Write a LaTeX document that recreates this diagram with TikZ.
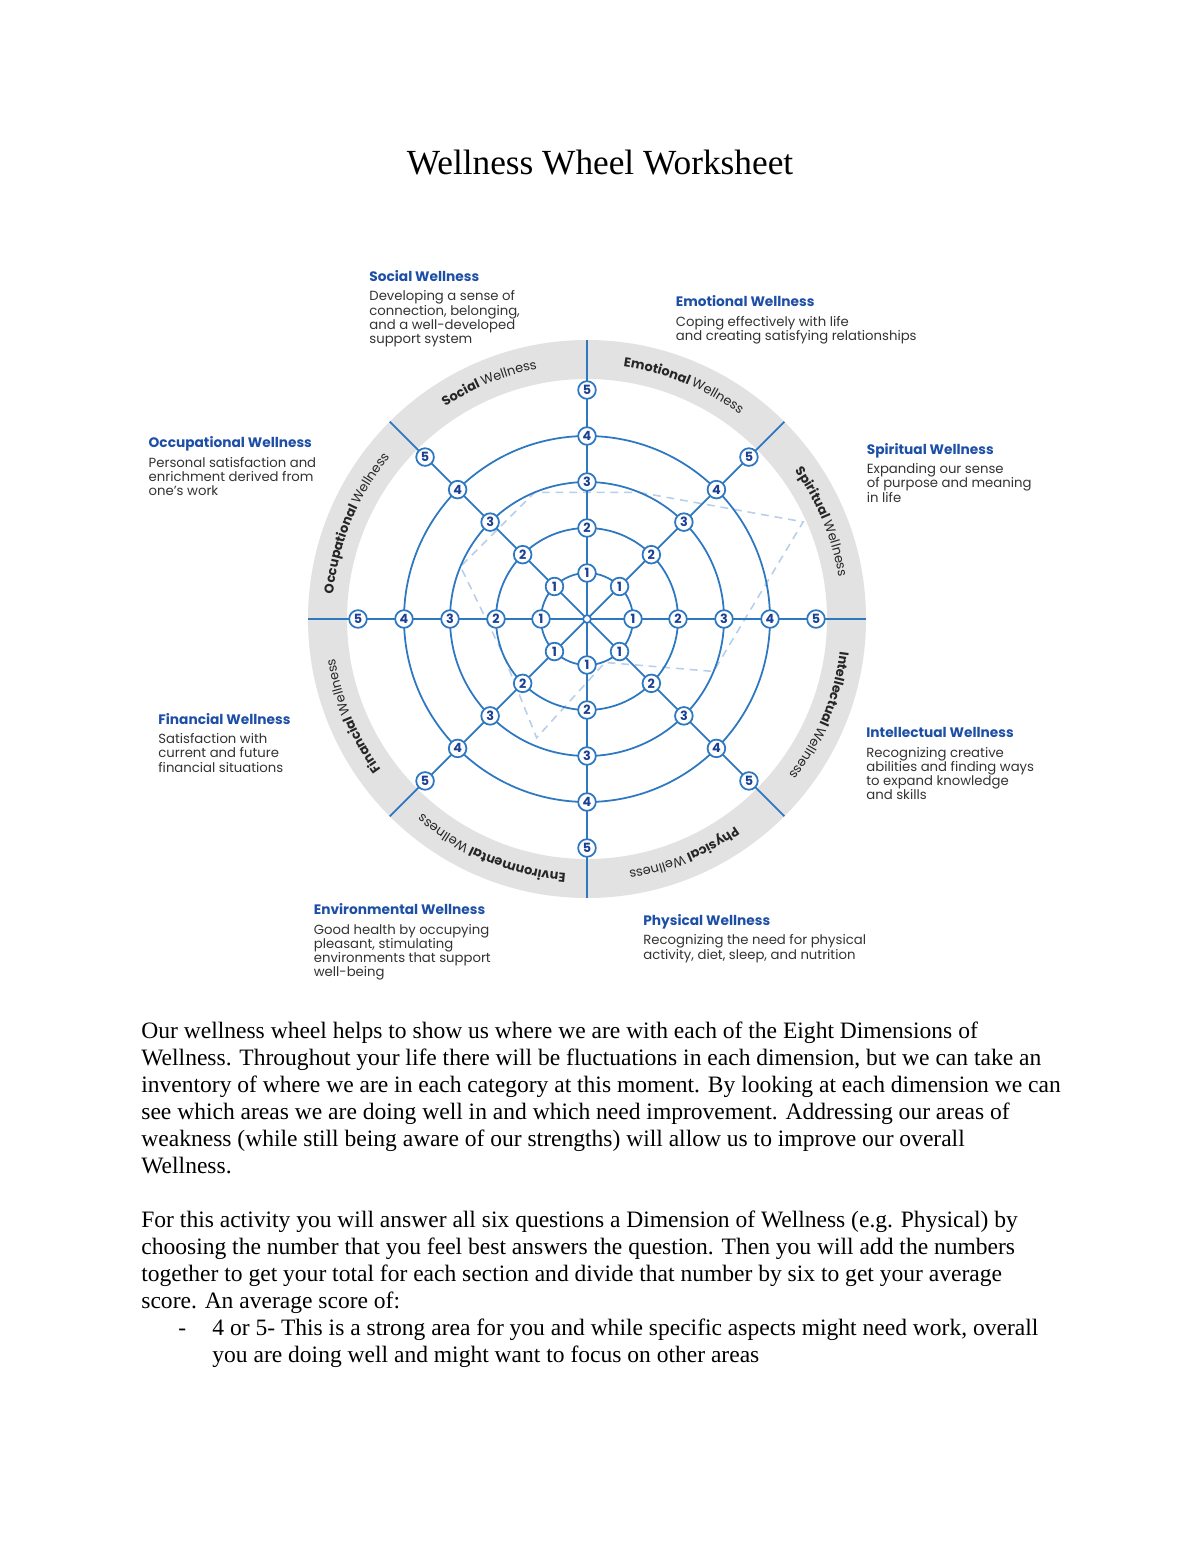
\documentclass[tikz,border=0pt]{standalone}
\usepackage{fontspec}
\setmainfont{Liberation Serif}
\newfontfamily\wsans{Poppins}
\usetikzlibrary{decorations.text,calc}
\definecolor{wblue}{HTML}{2E78C2}
\definecolor{wnavy}{HTML}{1B3F91}
\definecolor{wtitle}{HTML}{1D4FA6}
\definecolor{wgray}{HTML}{E2E2E2}
\definecolor{wdash}{HTML}{B7CFEA}
\definecolor{wtext}{HTML}{333333}
\tikzset{
 numnode/.style={circle, draw=wblue, fill=white, line width=0.9pt, minimum size=9pt, inner sep=0pt, font=\wsans\bfseries\fontsize{6.5}{6.5}\selectfont, text=wnavy},
 ringline/.style={draw=wblue, line width=0.9pt},
 captitle/.style={anchor=base west, inner sep=0pt, font=\wsans\bfseries\fontsize{7}{8}\selectfont, text=wtitle},
 capbody/.style={anchor=base west, inner sep=0pt, font=\wsans\fontsize{6.75}{8}\selectfont, text=wtext},
 bodyline/.style={anchor=base west, inner sep=0pt, font=\fontsize{12}{13.8}\selectfont},
}
% #1 centre angle of the sector, #2 bold word
\newcommand\ringlabel[2]{%
 \path[decorate, decoration={text along path, text align=center, text color=black!85,
   text={|\wsans\bfseries\fontsize{6.6}{6.6}\selectfont|#2 |\wsans\mdseries\fontsize{6.6}{6.6}\selectfont|Wellness}}]
   ({#1+60}:255) arc[start angle={#1+60}, end angle={#1-60}, radius=255];}
\begin{document}
\begin{tikzpicture}[x=0.51pt,y=-0.51pt]
\useasboundingbox[fill=white] (0,0) rectangle (1200,1553);
\node[anchor=base, inner sep=0pt, font=\fontsize{18}{20}\selectfont] (title) at (600,175) {Wellness Wheel Worksheet};

\begin{scope}[shift={(587,619)}, y=0.51pt]
 \fill[wgray, even odd rule] (0,0) circle[radius=279] (0,0) circle[radius=240];
 \coordinate (vEmo) at (67.5:137);
 \coordinate (vSpi) at (24.2:237);
 \coordinate (vInt) at (-22.5:137);
 \coordinate (vPhy) at (-67.5:47);
 \coordinate (vEnv) at (-113:129);
 \coordinate (vFin) at (-157.5:91);
 \coordinate (vOcc) at (157.5:137);
 \coordinate (vSoc) at (112.5:137);
 \draw[wdash, line width=0.8pt, dash pattern=on 4pt off 3pt] (vEmo) -- (vSpi) -- (vInt) -- (vPhy) -- (vEnv) -- (vFin) -- (vOcc) -- (vSoc) -- cycle;
 \foreach \r in {46,91,137,183} \draw[ringline] (0,0) circle[radius=\r];
 \coordinate (ctrpt) at (0,0);
 \foreach \a in {0,45,...,315} {
   \coordinate (o\a) at (\a:279);
   \draw[ringline] (ctrpt) -- (o\a);
 }
 \node[circle, draw=wblue, fill=white, line width=0.9pt, minimum size=4pt, inner sep=0pt] (ctr) at (0,0) {};
 \foreach \a in {0,45,...,315} {
   \foreach \v/\r in {1/46,2/91,3/137,4/183,5/229}
     \node[numnode] (n\a-\v) at (\a:\r) {\v};
 }
 \ringlabel{112.5}{Social}
 \ringlabel{67.5}{Emotional}
 \ringlabel{22.5}{Spiritual}
 \ringlabel{-22.5}{Intellectual}
 \ringlabel{-67.5}{Physical}
 \ringlabel{-112.5}{Environmental}
 \ringlabel{-157.5}{Financial}
 \ringlabel{157.5}{Occupational}
\end{scope}

% captions
\node[captitle] (socT) at (369,281) {Social Wellness};
\node[capbody] (soc1) at (369,300.7) {Developing a sense of};
\node[capbody] (soc2) at (369,315) {connection, belonging,};
\node[capbody] (soc3) at (369,329.2) {and a well-developed};
\node[capbody] (soc4) at (369,343.4) {support system};

\node[captitle] (emoT) at (675.5,306.5) {Emotional Wellness};
\node[capbody] (emo1) at (675.5,326) {Coping effectively with life};
\node[capbody] (emo2) at (675.5,340.3) {and creating satisfying relationships};

\node[captitle] (occT) at (148.3,447.7) {Occupational Wellness};
\node[capbody] (occ1) at (148.3,467.3) {Personal satisfaction and};
\node[capbody] (occ2) at (148.3,481.5) {enrichment derived from};
\node[capbody] (occ3) at (148.3,495.7) {one’s work};

\node[captitle] (spiT) at (866.5,454) {Spiritual Wellness};
\node[capbody] (spi1) at (866.5,473.5) {Expanding our sense};
\node[capbody] (spi2) at (866.5,487.7) {of purpose and meaning};
\node[capbody] (spi3) at (866.5,502) {in life};

\node[captitle] (finT) at (158,724) {Financial Wellness};
\node[capbody] (fin1) at (158,743.5) {Satisfaction with};
\node[capbody] (fin2) at (158,757.7) {current and future};
\node[capbody] (fin3) at (158,772) {financial situations};

\node[captitle] (intT) at (866,737) {Intellectual Wellness};
\node[capbody] (int1) at (866,757) {Recognizing creative};
\node[capbody] (int2) at (866,771.2) {abilities and finding ways};
\node[capbody] (int3) at (866,785.5) {to expand knowledge};
\node[capbody] (int4) at (866,799.8) {and skills};

\node[captitle] (envT) at (313.5,914) {Environmental Wellness};
\node[capbody] (env1) at (313.5,934) {Good health by occupying};
\node[capbody] (env2) at (313.5,948.2) {pleasant, stimulating};
\node[capbody] (env3) at (313.5,962.4) {environments that support};
\node[capbody] (env4) at (313.5,976.6) {well-being};

\node[captitle] (phyT) at (643,925) {Physical Wellness};
\node[capbody] (phy1) at (643,944.8) {Recognizing the need for physical};
\node[capbody] (phy2) at (643,959.2) {activity, diet, sleep, and nutrition};

% body text
\node[bodyline] (b1) at (141,1038) {Our wellness wheel helps to show us where we are with each of the Eight Dimensions of};
\node[bodyline] (b2) at (141,1065) {Wellness. Throughout your life there will be fluctuations in each dimension, but we can take an};
\node[bodyline] (b3) at (141,1092) {inventory of where we are in each category at this moment. By looking at each dimension we can};
\node[bodyline] (b4) at (141,1119) {see which areas we are doing well in and which need improvement. Addressing our areas of};
\node[bodyline] (b5) at (141,1146) {weakness (while still being aware of our strengths) will allow us to improve our overall};
\node[bodyline] (b6) at (141,1173) {Wellness.};
\node[bodyline] (c1) at (141,1227) {For this activity you will answer all six questions a Dimension of Wellness (e.g. Physical) by};
\node[bodyline] (c2) at (141,1254) {choosing the number that you feel best answers the question. Then you will add the numbers};
\node[bodyline] (c3) at (141,1281) {together to get your total for each section and divide that number by six to get your average};
\node[bodyline] (c4) at (141,1308) {score. An average score of:};
\node[bodyline] (dash1) at (178,1335) {-};
\node[bodyline] (c5) at (212,1335) {4 or 5- This is a strong area for you and while specific aspects might need work, overall};
\node[bodyline] (c6) at (212,1362) {you are doing well and might want to focus on other areas};
\end{tikzpicture}
\end{document}
